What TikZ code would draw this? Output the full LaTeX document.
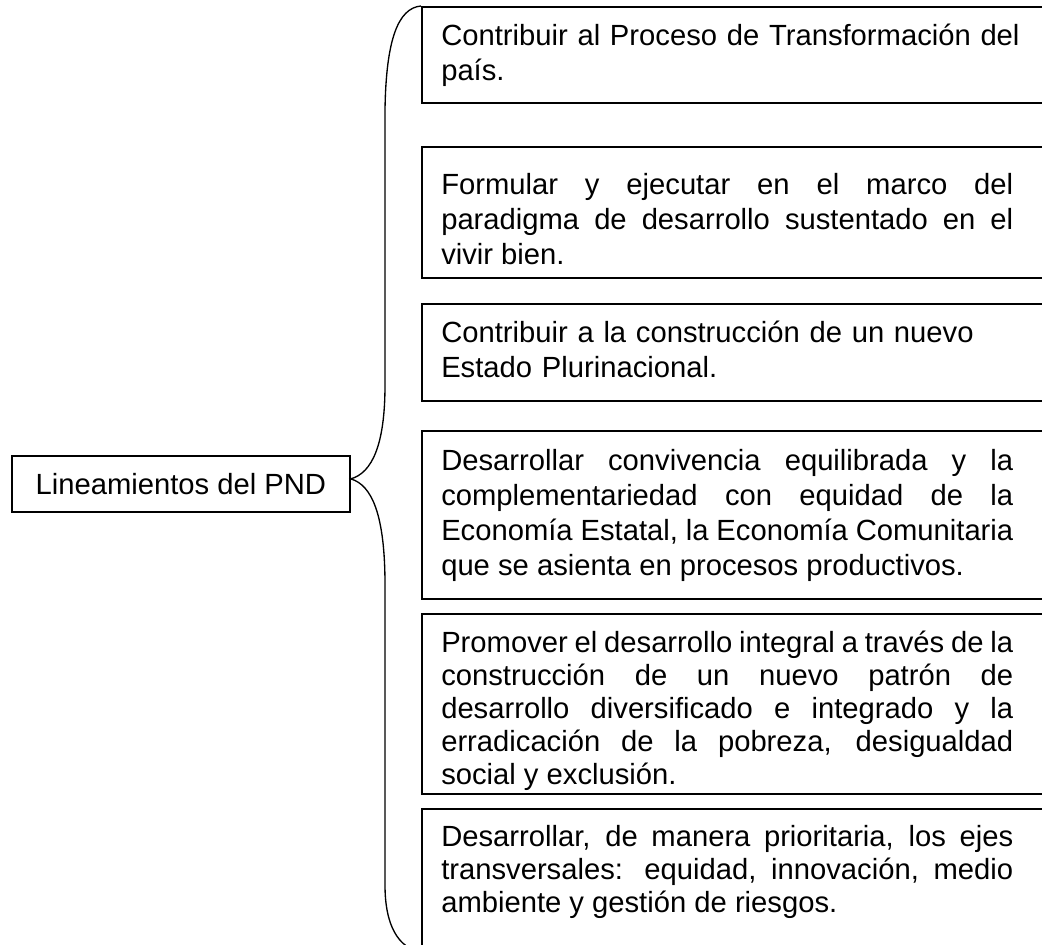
\documentclass[tikz,border=0pt]{standalone}
\usepackage{fontspec}
\setmainfont{Liberation Sans}
\usetikzlibrary{calc}
\newcommand\topstrut{\rule{0pt}{18.4pt}}
\hyphenpenalty=10000
\begin{document}
\begin{tikzpicture}[x=0.75pt,y=-0.75pt,
  frame/.style={draw, line width=1.3pt, inner sep=0pt, anchor=north west, minimum width=471.75pt},
  txt/.style={inner sep=0pt, anchor=north west, text width=429pt, font={\fontsize{21.9pt}{26.25pt}\selectfont}},
  widetxt/.style={txt, text width=445pt},
  tighttxt/.style={txt, font={\fontsize{21.9pt}{24.75pt}\selectfont}},
  mainbox/.style={draw, line width=1.3pt, inner sep=0pt, anchor=north west, minimum width=253.5pt, minimum height=42pt, font={\fontsize{21.9pt}{26.25pt}\selectfont}},
  brace/.style={draw, line width=1pt}
]
\useasboundingbox (0,0) rectangle (1042,945);
\fill[white] (0,0) rectangle (1042,945);
\clip (0,0) rectangle (1042,945);

% left box
\node[mainbox] (main) at (11,455) {Lineamientos del PND};

% frames
\node[frame, minimum height=72pt]    (f1) at (421,6)   {};
\node[frame, minimum height=98.25pt] (f2) at (421,146) {};
\node[frame, minimum height=72.75pt] (f3) at (421,303) {};
\node[frame, minimum height=126pt]   (f4) at (421,430) {};
\node[frame, minimum height=135pt]   (f5) at (421,613) {};
\node[frame, minimum height=112.5pt] (f6) at (421,808) {};

% texts
\node[widetxt, align=left] (t1) at ($(f1.north west)+(20,14.5)$)
  {\topstrut Contribuir al Proceso de Transformación del\\ país.};
\node[txt, align=justify] (t2) at ($(f2.north west)+(20,24)$)
  {\topstrut Formular y ejecutar en el marco del\linebreak paradigma de desarrollo sustentado en el\linebreak vivir bien.};
\node[widetxt, align=left] (t3) at ($(f3.north west)+(20,14.5)$)
  {\topstrut Contribuir a la construcción de un nuevo\\ Estado Plurinacional.};
\node[txt, align=justify] (t4) at ($(f4.north west)+(20,15.5)$)
  {\topstrut Desarrollar convivencia equilibrada y la\linebreak complementariedad con equidad de la\linebreak Economía Estatal, la Economía Comunitaria\linebreak que se asienta en procesos productivos.};
\node[tighttxt, align=justify] (t5) at ($(f5.north west)+(20,14.5)$)
  {\topstrut Promover el desarrollo integral a través de la\linebreak construcción de un nuevo patrón de\linebreak desarrollo diversificado e integrado y la\linebreak erradicación de la pobreza, desigualdad\linebreak social y exclusión.};
\node[tighttxt, align=justify] (t6) at ($(f6.north west)+(20,13.5)$)
  {\topstrut Desarrollar, de manera prioritaria, los ejes\linebreak transversales: equidad, innovación, medio\linebreak ambiente y gestión de riesgos.};

% brace
\coordinate (tip) at ($(main.east)+(0,-5)$);
\coordinate (bend) at (421,952);
\draw[brace] (f1.north west) .. controls (398,8) and (386,40) .. (385,110)
  -- (385,385) .. controls (385,445) and (372,473) .. (tip)
  .. controls (372,485) and (385,515) .. (385,585)
  -- (385,885) .. controls (385,925) and (398,948) .. (bend);
\end{tikzpicture}
\end{document}
